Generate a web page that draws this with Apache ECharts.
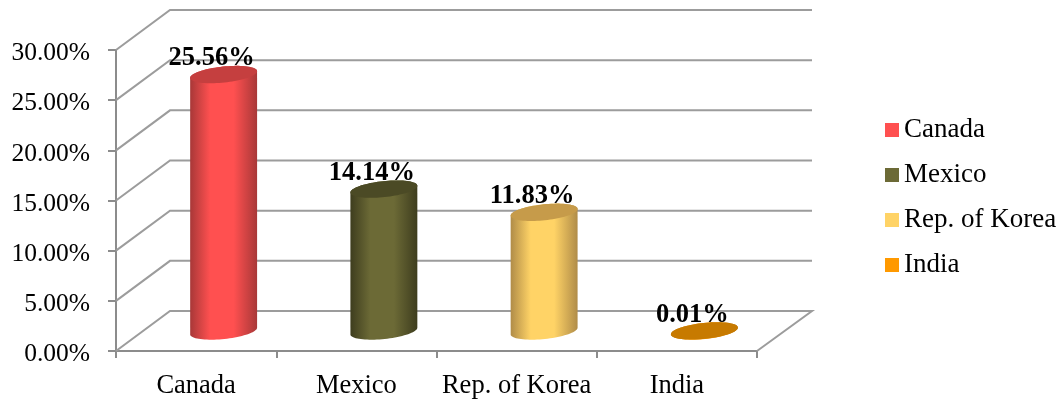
<!DOCTYPE html>
<html>
<head>
<meta charset="utf-8">
<style>html,body{margin:0;padding:0;background:#fff}#c{width:1061px;height:401px}</style>
<script src="https://cdn.jsdelivr.net/npm/echarts@6/dist/echarts.min.js"></script>
</head>
<body>
<div id="c"></div>
<script>
const categories = ['Canada', 'Mexico', 'Rep. of Korea', 'India'];
const shares = [25.56, 14.14, 11.83, 0.01];
const valueTicks = [0, 5, 10, 15, 20, 25, 30];
const bodyBright = ['#FF5050', '#6C6A36', '#FFD366', '#FF9900'];
const bodyDark = ['#A83838', '#3E3D1E', '#B08C48', '#B06C00'];
const capColors = ['#C53F3F', '#4B4A25', '#C69B4A', '#C77A00'];

const DX = 54, DY = -40, FONT = '"Liberation Serif","Times New Roman",serif', TILT = -6 * Math.PI / 180;
const gridColor = '#9C9C9C', axisColor = '#8C8C8C';

function ellipsePts(cx, cy, rx, ry, from, to, n) {
  const pts = [];
  const c = Math.cos(TILT), s = Math.sin(TILT);
  for (let i = 0; i <= n; i++) {
    const t = from + (to - from) * i / n;
    const x = rx * Math.cos(t), y = ry * Math.sin(t);
    pts.push([cx + x * c - y * s, cy + x * s + y * c]);
  }
  return pts;
}

function cylinder(idx) {
  return function (params, api) {
    const base = api.coord([api.value(0), 0]);
    const top = api.coord([api.value(0), api.value(1)]);
    const bw = api.size([1, 0])[0];
    const rx = bw * 0.21, ry = 8;
    const cx = base[0] + DX / 2 + 0.5, by = base[1] + DY / 2, ty = top[1] + DY / 2;
    const body = ellipsePts(cx, by, rx, ry, 0, Math.PI, 40)
      .concat(ellipsePts(cx, ty, rx, ry, Math.PI, 2 * Math.PI, 40));
    const dark = bodyDark[idx], bright = bodyBright[idx];
    return {
      type: 'group',
      children: [
        { type: 'polygon', shape: { points: body }, style: {
            fill: new echarts.graphic.LinearGradient(0, 0, 1, 0, [
              { offset: 0, color: dark }, { offset: 0.3, color: bright },
              { offset: 0.65, color: bright }, { offset: 1, color: dark }])
          } },
        { type: 'polygon', shape: { points: ellipsePts(cx, ty, rx, ry, 0, 2 * Math.PI, 80) },
          style: { fill: capColors[idx] } },
        { type: 'text', z2: 10, style: {
            text: api.value(1).toFixed(2) + '%', x: cx - 12, y: ty - 16,
            align: 'center', verticalAlign: 'middle',
            font: 'bold 26.5px ' + FONT, fill: '#000'
          } }
      ]
    };
  };
}

const wallSeries = {
  type: 'custom', silent: true, clip: false, z: 1,
  data: valueTicks.map(v => [0, v]),
  encode: { y: 1 },
  renderItem: function (params, api) {
    const v = api.value(1);
    const p = api.coord([0, v]);
    const r = params.coordSys;
    const x0 = r.x, x1 = r.x + r.width, y = p[1];
    const pts = [[x0, y], [x0 + DX, y + DY], [x1 + DX + 1, y + DY]];
    if (v === 0) pts.push([x1, y]);
    return { type: 'polyline', shape: { points: pts },
      style: { stroke: gridColor, lineWidth: 2, fill: null } };
  }
};

const option = {
  backgroundColor: '#fff',
  animation: false,
  textStyle: { fontFamily: FONT },
  legend: {
    orient: 'vertical', left: 880, top: 109, itemWidth: 14, itemHeight: 14,
    itemGap: 13, icon: 'rect', selectedMode: false,
    textStyle: { fontFamily: FONT, fontSize: 27, color: '#000', lineHeight: 30, height: 30, padding: [2, 0, 0, 0] },
    data: categories
  },
  grid: { left: 116, right: 304, top: 50, bottom: 50 },
  xAxis: {
    type: 'category', data: categories,
    axisLine: { lineStyle: { color: axisColor, width: 2 } },
    axisTick: { show: true, alignWithLabel: false, length: 7, lineStyle: { color: axisColor, width: 2 } },
    axisLabel: { fontFamily: FONT, fontSize: 26.5, color: '#000', margin: 22, interval: 0 }
  },
  yAxis: {
    type: 'value', min: 0, max: 30, interval: 5,
    axisLine: { show: true, lineStyle: { color: axisColor, width: 2 } },
    axisTick: { show: true, length: 8, lineStyle: { color: axisColor, width: 2 } },
    splitLine: { show: false },
    axisLabel: { fontFamily: FONT, fontSize: 25.5, color: '#000', margin: 26, verticalAlign: 'top', lineHeight: 7, formatter: v => v.toFixed(2) + '%' }
  },
  series: [wallSeries].concat(categories.map((name, i) => ({
    name, type: 'custom', clip: false, z: 3 + i,
    itemStyle: { color: bodyBright[i] },
    encode: { x: 0, y: 1 },
    data: [[i, shares[i]]],
    renderItem: cylinder(i)
  })))
};
const chart = echarts.init(document.getElementById('c'), null, { renderer: 'canvas' });
chart.setOption(option);
</script>
</body>
</html>
